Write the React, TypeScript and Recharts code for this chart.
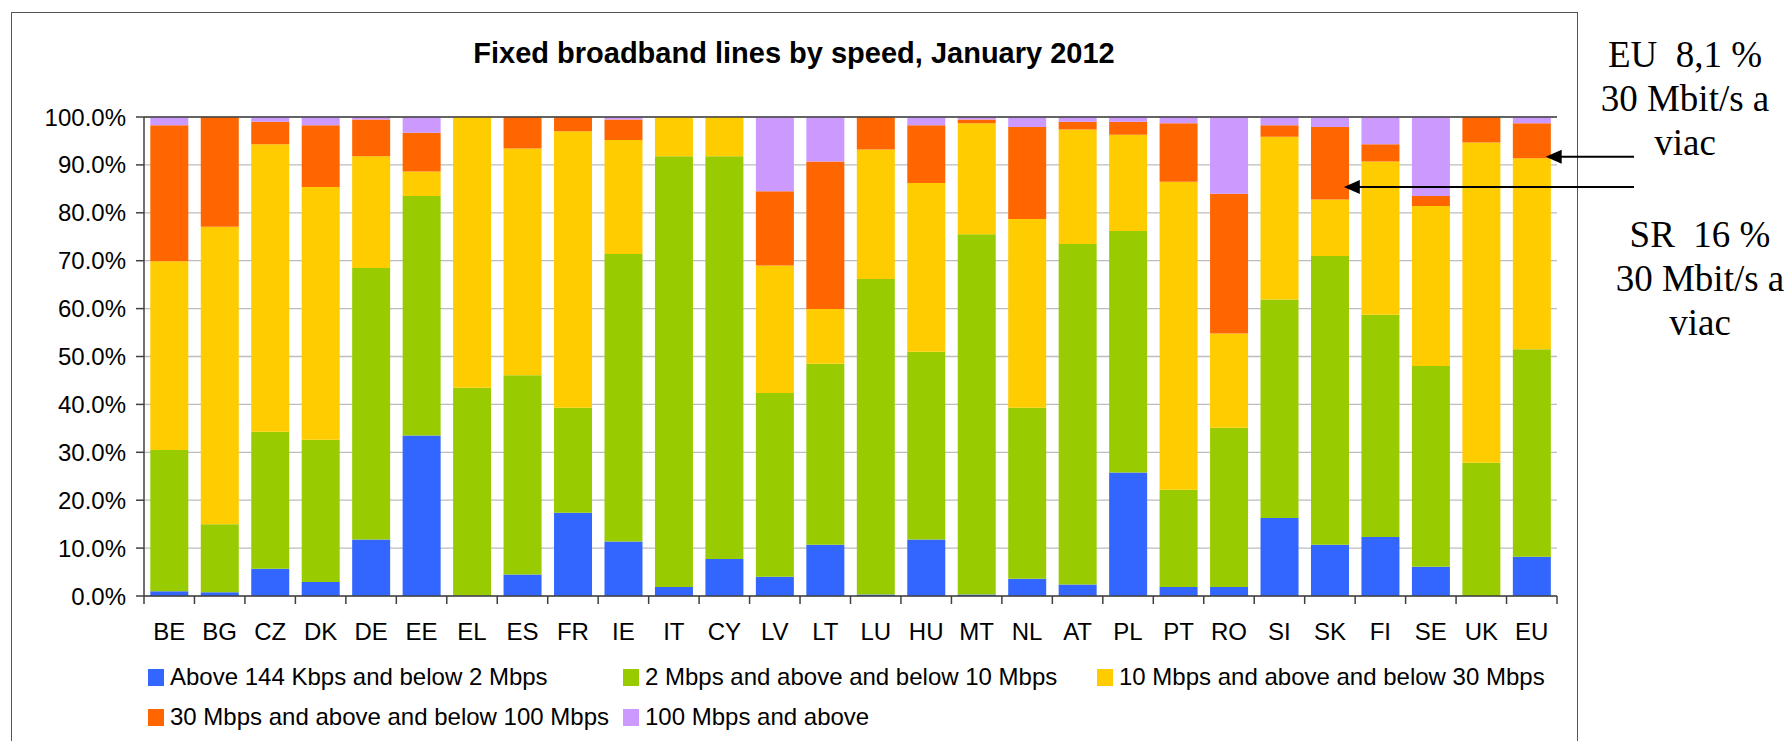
import React from 'react';
import { BarChart, Bar, XAxis, YAxis, CartesianGrid, Legend, ReferenceLine } from 'recharts';

const countries = ['BE','BG','CZ','DK','DE','EE','EL','ES','FR','IE','IT','CY','LV','LT','LU','HU','MT','NL','AT','PL','PT','RO','SI','SK','FI','SE','UK','EU'];
const below2 = [1.0,0.8,5.7,2.9,11.8,33.5,0.1,4.5,17.4,11.4,1.9,7.7,4.0,10.7,0.3,11.8,0.3,3.6,2.4,25.8,1.9,1.9,16.3,10.7,12.3,6.1,0.0,8.2];
const from2to10 = [29.5,14.2,28.6,29.7,56.7,50.0,43.4,41.6,21.9,60.0,89.9,84.1,38.4,37.8,65.9,39.2,75.2,35.7,71.1,50.4,20.3,33.2,45.6,60.3,46.4,41.9,27.8,43.3];
const from10to30 = [39.4,62.1,60.0,52.8,23.3,5.1,56.5,47.3,57.7,23.8,8.2,8.2,26.6,11.4,27.0,35.2,23.2,39.4,23.9,20.1,64.3,19.7,34.0,11.8,32.0,33.4,66.9,39.9];
const from30to100 = [28.4,22.9,4.7,12.9,7.7,8.1,0,6.6,3.0,4.3,0,0,15.5,30.8,6.8,12.1,0.8,19.2,1.6,2.7,12.2,29.2,2.4,15.1,3.6,2.1,5.3,7.3];
const above100 = [1.7,0,1.0,1.7,0.5,3.3,0,0,0,0.5,0,0,15.5,9.3,0,1.7,0.5,2.1,1.0,1.0,1.3,16.0,1.7,2.1,5.7,16.5,0,1.3];

const seriesKeys = ['b2', 'b10', 'b30', 'b100', 'a100'];
const seriesNames = [
  'Above 144 Kbps and below 2 Mbps',
  '2 Mbps and above and below 10 Mbps',
  '10 Mbps and above and below 30 Mbps',
  '30 Mbps and above and below 100 Mbps',
  '100 Mbps and above',
];
const seriesColors = ['#3366FF', '#99CC00', '#FFCC00', '#FF6600', '#CC99FF'];
const yTicks = [0, 10, 20, 30, 40, 50, 60, 70, 80, 90, 100];

const title = 'Fixed broadband lines by speed, January 2012';
const euNote = ['EU  8,1 %', '30 Mbit/s a', 'viac'];
const srNote = ['SR  16 %', '30 Mbit/s a', 'viac'];
// arrow targets: [category, value %]
const euArrow = { cat: 'EU', value: 91.7 };
const srArrow = { cat: 'SK', value: 85.4 };

const data = countries.map((c, i) => ({
  name: c,
  b2: below2[i],
  b10: from2to10[i],
  b30: from10to30[i],
  b100: from30to100[i],
  a100: above100[i],
}));

const W = 1791;
const H = 741;
const PLOT_L = 144;
const PLOT_R = 1557;
const PLOT_T = 117;
const PLOT_B = 596;
const SANS = '"Liberation Sans", Arial, sans-serif';
const SERIF = '"Liberation Serif", "Times New Roman", serif';
const AXIS = '#404040';
const TICK_SIZE = 8;
const TICK_MARGIN = 10;

const XTick = (props: any) => {
  const { x, y, payload, index, visibleTicksCount } = props;
  const off = payload.offset ?? 0;
  const axisY = y - TICK_SIZE - TICK_MARGIN;
  const isLast = index === (visibleTicksCount ?? countries.length) - 1;
  return (
    <g>
      <line x1={x - off} x2={x - off} y1={axisY} y2={axisY + TICK_SIZE} stroke={AXIS} strokeWidth={1.5} />
      {isLast && (
        <line x1={x + off} x2={x + off} y1={axisY} y2={axisY + TICK_SIZE} stroke={AXIS} strokeWidth={1.5} />
      )}
      <text x={x} y={axisY + 36} dy="0.35em" textAnchor="middle" fontSize={24} fontFamily={SANS} fill="#000">
        {payload.value}
      </text>
    </g>
  );
};

const LegendContent = () => (
  <div
    style={{
      display: 'grid',
      gridTemplateColumns: '475px 474px 475px',
      paddingLeft: 148,
      fontFamily: SANS,
      fontSize: 24,
      color: '#000',
      marginTop: 1,
    }}
  >
    {seriesNames.map((n, i) => (
      <div key={n} style={{ display: 'flex', alignItems: 'center', height: 40, whiteSpace: 'nowrap' }}>
        <span
          style={{
            display: 'inline-block',
            flexShrink: 0,
            width: 16,
            height: 17,
            background: seriesColors[i],
            marginRight: 6,
          }}
        />
        <span>{n}</span>
      </div>
    ))}
  </div>
);

export default function App() {
  const band = (PLOT_R - PLOT_L) / countries.length;
  const catX = (c: string) => PLOT_L + (countries.indexOf(c) + 0.5) * band;
  const valY = (v: number) => PLOT_B - (v / 100) * (PLOT_B - PLOT_T);
  const barHalf = band * 0.375;
  const arrowEndX = 1634;
  const arrows = [euArrow, srArrow].map((a) => ({ tip: catX(a.cat) + barHalf - 5, y: valY(a.value) }));

  return (
    <div style={{ position: 'absolute', left: 0, top: 0, width: W, height: H, overflow: 'hidden', background: '#fff' }}>
      <div
        style={{
          position: 'absolute',
          left: 11,
          top: 12,
          width: 1567,
          height: 800,
          border: '1.5px solid #555',
          boxSizing: 'border-box',
        }}
      />
      <div style={{ position: 'absolute', left: 0, top: 0 }}>
        <BarChart
          width={W}
          height={H}
          data={data}
          margin={{ top: PLOT_T, right: W - PLOT_R, left: PLOT_L - 130, bottom: 0 }}
          barCategoryGap="12.5%"
        >
          <CartesianGrid vertical={false} stroke="#BDBDBD" strokeWidth={1.3} />
          <XAxis
            dataKey="name"
            height={60}
            axisLine={{ stroke: AXIS, strokeWidth: 1.5 }}
            tickLine={false}
            tickSize={TICK_SIZE}
            tickMargin={TICK_MARGIN}
            interval={0}
            tick={<XTick />}
          />
          <YAxis
            width={130}
            domain={[0, 100]}
            ticks={yTicks}
            allowDataOverflow
            tickFormatter={(v: number) => `${v.toFixed(1)}%`}
            axisLine={{ stroke: AXIS, strokeWidth: 1.5 }}
            tickLine={{ stroke: AXIS, strokeWidth: 1.5 }}
            tickSize={TICK_SIZE}
            tickMargin={TICK_MARGIN}
            tick={{ fontSize: 24, fontFamily: SANS, fill: '#000' }}
          />
          <YAxis
            yAxisId="frame"
            orientation="right"
            width={0}
            domain={[0, 100]}
            tick={false}
            tickLine={false}
            axisLine={{ stroke: AXIS, strokeWidth: 1.3 }}
          />
          <ReferenceLine y={100} stroke={AXIS} strokeWidth={1.5} />
          {seriesKeys.map((k, i) => (
            <Bar
              key={k}
              dataKey={k}
              name={seriesNames[i]}
              stackId="s"
              fill={seriesColors[i]}
              isAnimationActive={false}
            />
          ))}
          <Legend
            verticalAlign="bottom"
            content={<LegendContent />}
            wrapperStyle={{ left: 0, bottom: 0, width: W, height: 85 }}
          />
        </BarChart>
      </div>
      <svg width={W} height={H} style={{ position: 'absolute', left: 0, top: 0, pointerEvents: 'none' }}>
        <text x={794} y={63} textAnchor="middle" fontFamily={SANS} fontWeight="bold" fontSize={29} fill="#000">
          {title}
        </text>
        {euNote.map((t, i) => (
          <text key={'eu' + i} x={1685} y={66.5 + i * 44.3} textAnchor="middle" fontFamily={SERIF} fontSize={37} fill="#000" style={{ whiteSpace: 'pre' }}>
            {t}
          </text>
        ))}
        {srNote.map((t, i) => (
          <text key={'sr' + i} x={1700} y={247 + i * 44} textAnchor="middle" fontFamily={SERIF} fontSize={37} fill="#000" style={{ whiteSpace: 'pre' }}>
            {t}
          </text>
        ))}
        {arrows.map((a, i) => (
          <g key={'ar' + i}>
            <line x1={a.tip + 14} x2={arrowEndX} y1={a.y} y2={a.y} stroke="#000" strokeWidth={2} />
            <polygon points={`${a.tip},${a.y} ${a.tip + 16},${a.y - 7} ${a.tip + 16},${a.y + 7}`} fill="#000" />
          </g>
        ))}
      </svg>
    </div>
  );
}
